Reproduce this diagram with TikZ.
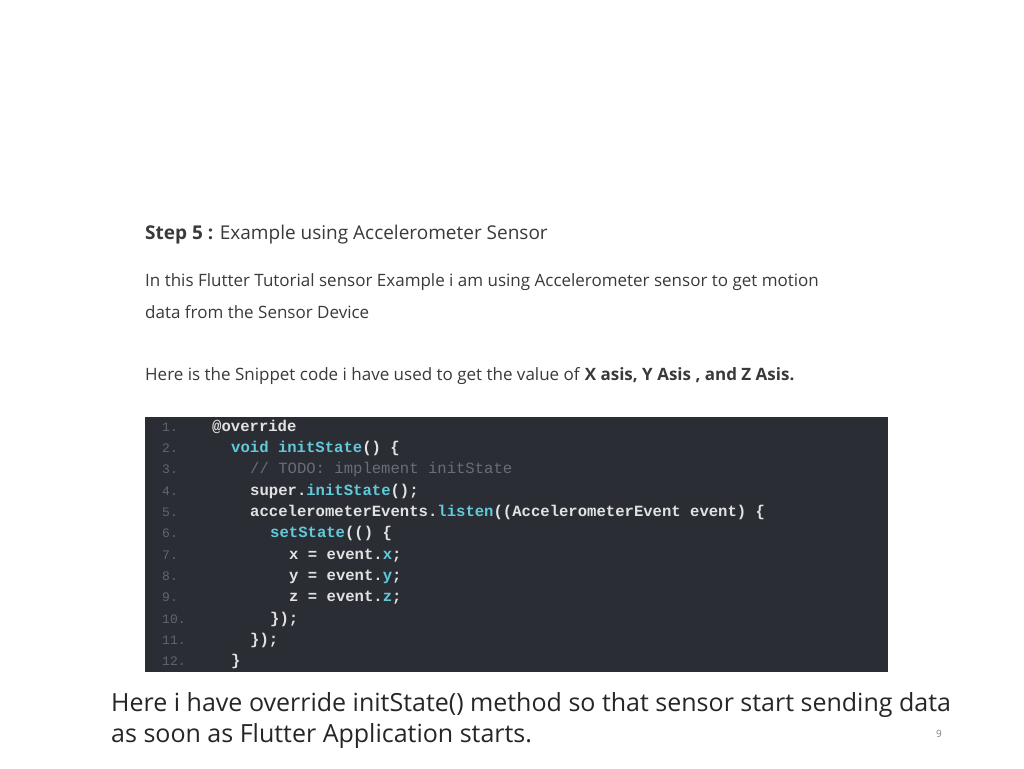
\documentclass[tikz,border=0pt]{standalone}
\usepackage{fontspec}
\setmainfont{Open Sans}
\setmonofont{Liberation Mono}
\definecolor{codebg}{HTML}{2B2D35}
\definecolor{codefg}{HTML}{E2E2E2}
\definecolor{teal}{HTML}{62C9D9}
\definecolor{cmt}{HTML}{6A6D75}
\definecolor{lnum}{HTML}{62656C}
\definecolor{txt}{HTML}{3A3A3A}
\begin{document}
\begin{tikzpicture}[x=1pt,y=-1pt,
  tl/.style={anchor=base west,inner sep=0pt,text=txt,font=\fontsize{17}{20}\selectfont},
  cl/.style={anchor=base west,inner sep=0pt,text=codefg,font=\fontsize{15.6}{18}\selectfont\ttfamily\bfseries},
  ln/.style={anchor=base west,inner sep=0pt,text=lnum,font=\fontsize{13}{16}\selectfont\ttfamily}]
\useasboundingbox[fill=white] (0,0) rectangle (1024,768);
\node[tl,font=\fontsize{19}{22}\selectfont] (h) at (145,239) {\textbf{Step 5 :} Example using Accelerometer Sensor};
\node[tl] (p1) at (145,286) {In this Flutter Tutorial sensor Example i am using Accelerometer sensor to get motion};
\node[tl] (p2) at (145,318) {data from the Sensor Device};
\node[tl] (p3) at (145,380) {Here is the Snippet code i have used to get the value of \textbf{X asis, Y Asis , and Z Asis.}};
\fill[codebg] (145,417) rectangle (888,672);
\foreach \i in {1,...,12}{
  \node[ln] (n\i) at (162,{431+(\i-1)*21.36}) {\i.};
}
\def\Y#1{{431+(#1-1)*21.36}}
\node[cl] (c1) at (212,\Y1) {@override};
\node[cl] (c2) at (231,\Y2) {\textcolor{teal}{void initState}() \{};
\node[cl,text=cmt,font=\fontsize{15.6}{18}\selectfont\ttfamily] (c3) at (250,\Y3) {// TODO: implement initState};
\node[cl] (c4) at (250,\Y4) {super.\textcolor{teal}{initState}();};
\node[cl] (c5) at (250,\Y5) {accelerometerEvents.\textcolor{teal}{listen}((AccelerometerEvent event) \{};
\node[cl] (c6) at (270,\Y6) {\textcolor{teal}{setState}(() \{};
\node[cl] (c7) at (289,\Y7) {x = event.\textcolor{teal}{x};};
\node[cl] (c8) at (289,\Y8) {y = event.\textcolor{teal}{y};};
\node[cl] (c9) at (289,\Y9) {z = event.\textcolor{teal}{z};};
\node[cl] (c10) at (270,\Y{10}) {\});};
\node[cl] (c11) at (250,\Y{11}) {\});};
\node[cl] (c12) at (231,\Y{12}) {\}};
\node[anchor=base west,inner sep=0pt,text=black!85,font=\fontsize{25}{30}\selectfont] (cap1) at (111,711) {Here i have override initState() method so that sensor start sending data};
\node[anchor=base west,inner sep=0pt,text=black!85,font=\fontsize{25}{30}\selectfont] (cap2) at (111,742) {as soon as Flutter Application starts.};
\node[anchor=base west,inner sep=0pt,text=black!50,font=\fontsize{10}{12}\selectfont] (pg) at (936,737) {9};
\end{tikzpicture}
\end{document}
